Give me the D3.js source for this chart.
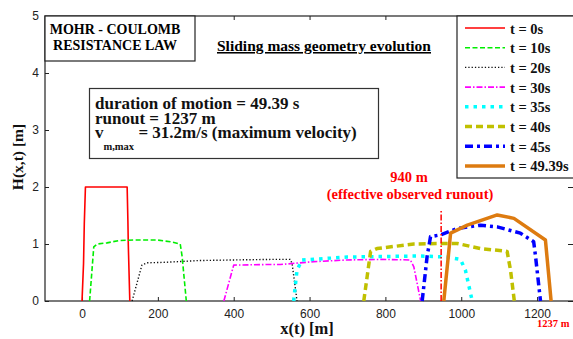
<!DOCTYPE html>
<html>
<head>
<meta charset="utf-8">
<script src="https://cdn.jsdelivr.net/npm/d3@7"></script>
<style>
  body { margin: 0; background: #fff; }
  .tick text { font-family: "Liberation Sans", Arial, sans-serif; font-size: 12px; fill: #222; }
  .tick line { stroke: #222; }
  .serif { font-family: "Liberation Serif", "Times New Roman", serif; font-weight: bold; }
</style>
</head>
<body>
<div id="chart"></div>
<script>
// Data: sliding mass profiles H(x) at several times
const times  = ['t = 0s', 't = 10s', 't = 20s', 't = 30s', 't = 35s', 't = 40s', 't = 45s', 't = 49.39s'];
const xTicks = [0, 200, 400, 600, 800, 1000, 1200];
const yTicks = [0, 1, 2, 3, 4, 5];

const h0  = [[0,0],[4,0.66],[6,1.36],[9,2.0],[119,2.0],[121,1.4],[122,1.0],[126,0]];
const h10 = [[20,0],[31,0.95],[40,1.0],[66,1.02],[97,1.06],[136,1.07],[198,1.07],[233,1.04],[259,1.0],[264,0.78],[275,0]];
const h20 = [[132,0],[158,0.63],[171,0.67],[224,0.68],[308,0.71],[400,0.72],[500,0.73],[549,0.73],[554,0.66],[567,0]];
const h30 = [[374,0],[400,0.63],[488,0.64],[523,0.64],[611,0.69],[699,0.72],[787,0.73],[866,0.72],[875,0.6],[893,0]];
const h35 = [[558,0],[567,0.54],[580,0.72],[699,0.77],[787,0.78],[893,0.79],[963,0.77],[998,0.73],[1011,0.54],[1029,0]];
const h40 = [[743,0],[761,0.87],[778,0.92],[875,1.0],[963,1.01],[989,1.01],[1051,0.92],[1121,0.87],[1130,0.54],[1140,0]];
const h45 = [[897,0],[910,0.78],[919,1.13],[945,1.16],[989,1.27],[1051,1.33],[1095,1.30],[1156,1.19],[1191,1.04],[1196,0.78],[1209,0]];
const h49 = [[954,0],[972,1.19],[1016,1.33],[1095,1.51],[1139,1.45],[1222,1.07],[1237,0]];
const profiles = [h0, h10, h20, h30, h35, h40, h45, h49];

const observedRunout = 947;   // where the red marker is drawn
const markerTop      = 1.6;

// Line styles per time step
const styles = [
  { color: '#ff0000', width: 1.6, dash: null },
  { color: '#00ee00', width: 1.6, dash: '5,2.5' },
  { color: '#111111', width: 1.4, dash: '1.3,2' },
  { color: '#ff00ff', width: 1.6, dash: '6,2,1.5,2' },
  { color: '#00ffff', width: 3.5, dash: '3.5,5' },
  { color: '#c0c000', width: 3.5, dash: '7,4' },
  { color: '#0000ff', width: 3.5, dash: '8,4,3,4' },
  { color: '#dd7b10', width: 3.5, dash: null }
];

const width  = 573;
const height = 339;
const plotL = 45, plotR = 575, plotT = 16, plotB = 301;

const svg = d3.select('#chart').append('svg')
  .attr('width', width)
  .attr('height', height);

const x = d3.scaleLinear().domain([-100, 1300]).range([plotL - 0.9, plotR]);
const y = d3.scaleLinear().domain([0, 5]).range([plotB, plotT]);

// Axes with inward ticks
svg.append('g')
  .attr('transform', `translate(0,${plotB})`)
  .call(d3.axisBottom(x).tickValues(xTicks).tickFormat(d3.format('d')).tickSize(-4).tickPadding(8))
  .call(g => g.select('.domain').remove());

svg.append('g')
  .attr('transform', `translate(0,${plotT})`)
  .call(d3.axisTop(x).tickValues(xTicks).tickSize(-4).tickFormat(''))
  .call(g => g.select('.domain').remove());

svg.append('g')
  .attr('transform', `translate(${plotL},0)`)
  .call(d3.axisLeft(y).tickValues(yTicks).tickFormat(d3.format('d')).tickSize(-4).tickPadding(6))
  .call(g => g.select('.domain').remove());

svg.append('g')
  .attr('transform', `translate(${plotR - 2},0)`)
  .call(d3.axisRight(y).tickValues(yTicks).tickSize(-5).tickFormat(''))
  .call(g => g.select('.domain').remove());

// Plot box
svg.append('rect')
  .attr('x', plotL).attr('y', plotT)
  .attr('width', plotR - plotL).attr('height', plotB - plotT)
  .attr('fill', 'none').attr('stroke', '#222').attr('stroke-width', 1.2);

// Profiles
const line = d3.line().x(d => x(d[0])).y(d => y(d[1]));

svg.append('g').selectAll('path')
  .data(profiles)
  .join('path')
    .attr('d', line)
    .attr('fill', 'none')
    .attr('stroke', (d, i) => styles[i].color)
    .attr('stroke-width', (d, i) => styles[i].width)
    .attr('stroke-dasharray', (d, i) => styles[i].dash)
    .attr('stroke-linejoin', 'round');

// Observed runout marker
svg.append('line')
  .attr('x1', x(observedRunout)).attr('x2', x(observedRunout))
  .attr('y1', y(0)).attr('y2', y(markerTop))
  .attr('stroke', '#ff0000').attr('stroke-width', 1.5)
  .attr('stroke-dasharray', '6,2,1.5,2');

svg.append('text').attr('class', 'serif')
  .attr('x', 409).attr('y', 182)
  .attr('text-anchor', 'middle').attr('fill', '#ff0000').attr('font-size', 14.5)
  .text('940 m');
svg.append('text').attr('class', 'serif')
  .attr('x', 410).attr('y', 199)
  .attr('text-anchor', 'middle').attr('fill', '#ff0000').attr('font-size', 14.5)
  .text('(effective observed runout)');

svg.append('text').attr('class', 'serif')
  .attr('x', 537).attr('y', 327)
  .attr('fill', '#ff0000').attr('font-size', 10.5)
  .text('1237 m');

// Axis labels
svg.append('text').attr('class', 'serif')
  .attr('x', 307).attr('y', 334)
  .attr('text-anchor', 'middle').attr('font-size', 16.5).attr('fill', '#111')
  .text('x(t) [m]');

svg.append('text').attr('class', 'serif')
  .attr('transform', 'translate(23,157) rotate(-90)')
  .attr('text-anchor', 'middle').attr('font-size', 15.5).attr('fill', '#111')
  .text('H(x,t) [m]');

// Mohr-Coulomb box
svg.append('rect')
  .attr('x', plotL).attr('y', plotT).attr('width', 150).attr('height', 45)
  .attr('fill', '#fff').attr('stroke', '#222').attr('stroke-width', 1.2);
svg.append('text').attr('class', 'serif')
  .attr('x', 115).attr('y', 34).attr('text-anchor', 'middle').attr('font-size', 14)
  .text('MOHR - COULOMB');
svg.append('text').attr('class', 'serif')
  .attr('x', 115).attr('y', 50).attr('text-anchor', 'middle').attr('font-size', 14)
  .text('RESISTANCE LAW');

// Title
svg.append('text').attr('class', 'serif')
  .attr('x', 324).attr('y', 51).attr('text-anchor', 'middle').attr('font-size', 15.5)
  .attr('text-decoration', 'underline')
  .text('Sliding mass geometry evolution');

// Info box
svg.append('rect')
  .attr('x', 89.5).attr('y', 88.5).attr('width', 289).attr('height', 70)
  .attr('fill', '#fff').attr('stroke', '#333').attr('stroke-width', 1.2);
const info = svg.append('g').attr('class', 'serif').attr('font-size', 17).attr('fill', '#111');
info.append('text').attr('x', 95).attr('y', 109).text('duration of motion = 49.39 s');
info.append('text').attr('x', 95).attr('y', 124).text('runout = 1237 m');
const v = info.append('text').attr('x', 95).attr('y', 138);
v.append('tspan').text('v');
v.append('tspan').attr('font-size', 10.5).attr('dy', 12).text('m,max');
v.append('tspan').attr('dy', -12).text(' = 31.2m/s (maximum velocity)');

// Legend
svg.append('rect')
  .attr('x', 457).attr('y', plotT).attr('width', 130).attr('height', 162)
  .attr('fill', '#fff').attr('stroke', '#222').attr('stroke-width', 1.2);

const legend = svg.append('g').selectAll('g')
  .data(times)
  .join('g')
    .attr('transform', (d, i) => `translate(0,${28 + i * 19.7})`);

legend.append('line')
  .attr('x1', 465).attr('x2', 505)
  .attr('stroke', (d, i) => styles[i].color)
  .attr('stroke-width', (d, i) => styles[i].width)
  .attr('stroke-dasharray', (d, i) => styles[i].dash);

legend.append('text').attr('class', 'serif')
  .attr('x', 510).attr('y', 5.5).attr('font-size', 14.5).attr('fill', '#111')
  .text(d => d);
</script>
</body>
</html>
